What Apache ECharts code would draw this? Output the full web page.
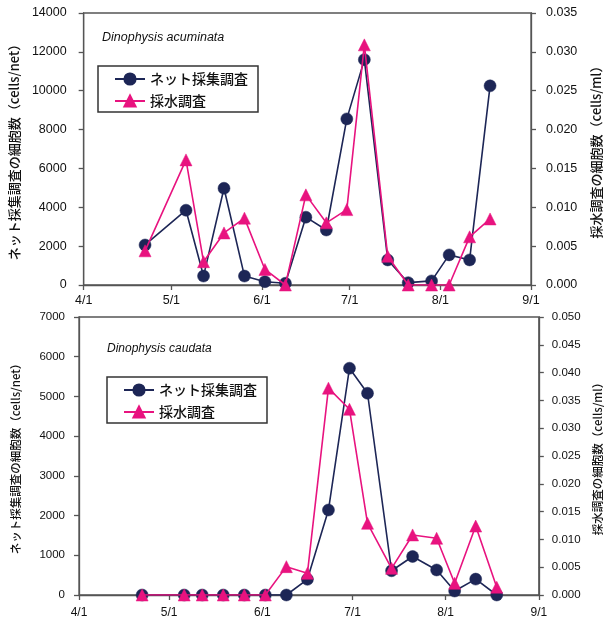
<!DOCTYPE html>
<html>
<head>
<meta charset="utf-8">
<script src="https://cdn.jsdelivr.net/npm/echarts@6/dist/echarts.min.js"></script>
<style>
html,body{margin:0;padding:0;background:#fff;}
#chart{width:611px;height:626px;}
</style>
</head>
<body>
<div id="chart"></div>
<script>
// ---- data ----
const sampleDates = ['4/22','5/6','5/12','5/19','5/26','6/2','6/9','6/16','6/23','6/30','7/6','7/14','7/21','7/29','8/4','8/11','8/18'];
const monthTicks = ['4/1','5/1','6/1','7/1','8/1','9/1'];
const seriesNames = ['ネット採集調査','採水調査'];
const acuminataNet = [2060, 3850, 460, 4980, 460, 170, 90, 3490, 2830, 8550, 11600, 1290, 120, 210, 1550, 1290, 10250];
const acuminataWater = [0.0044, 0.0161, 0.0030, 0.0067, 0.0086, 0.0020, 0, 0.0116, 0.0080, 0.0097, 0.0309, 0.0037, 0, 0, 0, 0.0062, 0.0085];
const caudataNet = [0, 0, 0, 0, 0, 0, 0, 395, 2140, 5710, 5080, 610, 970, 630, 100, 400, 0];
const caudataWater = [0, 0, 0, 0, 0, 0, 0.0051, 0.0039, 0.0372, 0.0334, 0.0129, 0.0048, 0.0108, 0.0102, 0.0021, 0.0124, 0.0014];
const leftTicksTop = [0, 2000, 4000, 6000, 8000, 10000, 12000, 14000];
const rightTicksTop = [0, 0.005, 0.010, 0.015, 0.020, 0.025, 0.030, 0.035];
const leftTicksBottom = [0, 1000, 2000, 3000, 4000, 5000, 6000, 7000];
const rightTicksBottom = [0, 0.005, 0.010, 0.015, 0.020, 0.025, 0.030, 0.035, 0.040, 0.045, 0.050];

// ---- helpers ----
const monthStart = {4: 0, 5: 30, 6: 61, 7: 91, 8: 122, 9: 153};
function dayOffset(md) { const [m, d] = md.split('/').map(Number); return monthStart[m] + d - 1; }
const tickDays = monthTicks.map(dayOffset);
const xs = sampleDates.map(dayOffset);
function pairs(vals) { return vals.map((v, i) => [xs[i], v]); }

const NAVY = '#1d2656';
const PINK = '#e8137f';
const AXIS = '#555';
const TXT = '#111';
const FONT = 'Liberation Sans, Arial, sans-serif';
const JFONT = '"Noto Sans CJK JP", sans-serif';

function xAxis(gi, fs, margin) {
  return {
    type: 'value', gridIndex: gi, min: tickDays[0], max: tickDays[tickDays.length - 1],
    axisLine: {lineStyle: {color: AXIS, width: 1.3}},
    axisTick: {customValues: tickDays, length: 5, lineStyle: {color: AXIS, width: 1.3}},
    axisLabel: {customValues: tickDays, margin: margin, fontSize: fs, fontFamily: FONT, color: TXT,
      formatter: v => monthTicks[tickDays.indexOf(Math.round(v))] || ''},
    splitLine: {show: false}
  };
}
function yAxis(gi, pos, ticks, fmt, name, nameGap, fs, nfs, margin) {
  return {
    type: 'value', gridIndex: gi, position: pos,
    min: ticks[0], max: ticks[ticks.length - 1], interval: ticks[1] - ticks[0],
    axisLine: {show: true, lineStyle: {color: AXIS, width: 1.3}},
    axisTick: {show: true, length: 5, lineStyle: {color: AXIS, width: 1.3}},
    axisLabel: {fontSize: fs, fontFamily: FONT, color: TXT, margin: margin, formatter: fmt},
    splitLine: {show: false},
    name: name, nameLocation: 'middle', nameRotate: 90, nameGap: nameGap,
    nameTextStyle: {fontSize: nfs, fontFamily: JFONT, fontWeight: 500, color: TXT}
  };
}
function lineSeries(name, data, xi, yi, color, symbol, size, z) {
  return {
    type: 'line', name: name, data: data, xAxisIndex: xi, yAxisIndex: yi,
    symbol: symbol, symbolSize: size, z: z,
    lineStyle: {color: color, width: 1.6},
    itemStyle: {color: color, borderColor: color, borderWidth: 0.5},
    emphasis: {disabled: true}, animation: false
  };
}
function legend(left, top) {
  return {
    data: seriesNames, orient: 'vertical', left: left, top: top,
    itemWidth: 30, itemHeight: 14, itemGap: 8,
    padding: [6, 10, 4, 16],
    borderColor: '#333', borderWidth: 1.5, backgroundColor: '#fff',
    textStyle: {fontSize: 14, lineHeight: 14, fontFamily: JFONT, fontWeight: 500, color: TXT}
  };
}

const chart = echarts.init(document.getElementById('chart'), null, {renderer: 'canvas'});
chart.setOption({
  animation: false,
  backgroundColor: '#fff',
  title: [
    {text: 'Dinophysis acuminata', left: 97, top: 26, textStyle: {fontSize: 12.5, fontStyle: 'italic', fontWeight: 'normal', fontFamily: FONT, color: TXT}},
    {text: 'Dinophysis caudata', left: 102, top: 338, textStyle: {fontSize: 12, fontStyle: 'italic', fontWeight: 'normal', fontFamily: FONT, color: TXT}}
  ],
  legend: [legend(98, 66), legend(107, 377)],
  grid: [
    {left: 83, right: 72, top: 13, height: 272, show: true, borderColor: AXIS, borderWidth: 1.3},
    {left: 79, right: 62, top: 317, height: 278, show: true, borderColor: AXIS, borderWidth: 1.3}
  ],
  xAxis: [xAxis(0, 12.5, 9), xAxis(1, 12, 12)],
  yAxis: [
    yAxis(0, 'left', leftTicksTop, v => String(v), 'ネット採集調査の細胞数（cells/net）', 62, 12.5, 13, 17),
    yAxis(0, 'right', rightTicksTop, v => v.toFixed(3), '採水調査の細胞数（cells/ml）', 59, 12.5, 13, 15),
    yAxis(1, 'left', leftTicksBottom, v => String(v), 'ネット採集調査の細胞数（cells/net）', 58, 11.5, 11.5, 14),
    yAxis(1, 'right', rightTicksBottom, v => v.toFixed(3), '採水調査の細胞数（cells/ml）', 44, 11.5, 11.5, 13)
  ],
  series: [
    lineSeries(seriesNames[0], pairs(acuminataNet), 0, 0, NAVY, 'circle', 12, 2),
    lineSeries(seriesNames[1], pairs(acuminataWater), 0, 1, PINK, 'triangle', 12, 3),
    lineSeries(seriesNames[0], pairs(caudataNet), 1, 2, NAVY, 'circle', 12, 2),
    lineSeries(seriesNames[1], pairs(caudataWater), 1, 3, PINK, 'triangle', 12, 3)
  ]
});
</script>
</body>
</html>
